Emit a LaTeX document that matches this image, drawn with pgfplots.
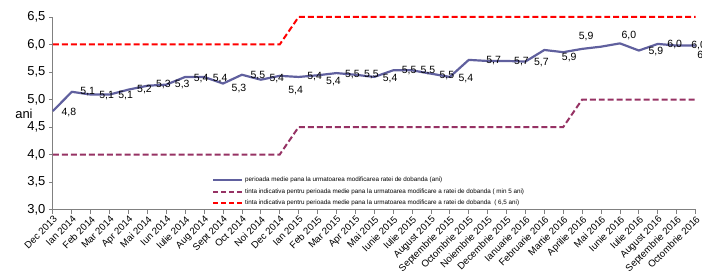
\documentclass[border=0pt]{standalone}
\usepackage{fontspec}
\setmainfont{Liberation Sans}
\usepackage{pgfplots}
\usepackage{pgfplotstable}
\pgfplotsset{compat=1.18}
\definecolor{lineblue}{RGB}{96,96,158}
\definecolor{tpurple}{RGB}{150,50,100}
\definecolor{tred}{RGB}{255,0,0}

\pgfplotstableread{
x y lab dx dy
0 4.79 {4,8} 16 -1
1 5.14 {5,1} 16 0
2 5.09 {5,1} 16 -1
3 5.09 {5,1} 16 -1
4 5.18 {5,2} 16 0
5 5.25 {5,3} 16 1
6 5.27 {5,3} 16 0
7 5.41 {5,4} 16 -2
8 5.41 {5,4} 16 -2
9 5.29 {5,3} 16 -5
10 5.45 {5,5} 16 -1
11 5.36 {5,4} 16 1
12 5.43 {5,4} 16 -15
13 5.41 {5,4} 16 0
14 5.44 {5,4} 16 -6
15 5.48 {5,5} 16 -1
16 5.45 {5,5} 16 0
17 5.41 {5,4} 16 -2
18 5.53 {5,5} 16 0
19 5.53 {5,5} 16 0
20 5.47 {5,5} 16 -2
21 5.41 {5,4} 16 -2
22 5.72 {} 0 0
23 5.70 {5,7} 6 0
24 5.70 {5,7} 15 -1
25 5.69 {5,7} 16 -1
26 5.90 {} 0 0
27 5.86 {5,9} 6 -5
28 5.92 {5,9} 4 12
29 5.96 {} 0 0
30 6.02 {6,0} 9 8
31 5.89 {5,9} 17 -1
32 6.01 {6,0} 17 -1
33 5.98 {6,0} 22 0
34 5.98 {6,0} 9 -10
}\mydata

\pgfplotstableread{
x y
0 4.0
12 4.0
13 4.5
27 4.5
28 5.0
34 5.0
}\purpletarget

\pgfplotstableread{
x y
0 6.0
12 6.0
13 6.5
34 6.5
}\redtarget

\begin{document}
\begin{tikzpicture}
\begin{axis}[
  scale only axis, width=644pt, height=193pt,
  xmin=0, xmax=34, ymin=3, ymax=6.5,
  axis x line*=bottom, axis y line*=left,
  axis line style={draw=gray, line width=0.8pt, -},
  xtick={0,...,34},
  xticklabels={Dec 2013, Ian 2014, Feb 2014, Mar 2014, Apr 2014, Mai 2014, Iun 2014, Iulie 2014, Aug 2014, Sept 2014, Oct 2014, Noi 2014, Dec 2014, Ian 2015, Feb 2015, Mar 2015, Apr 2015, Mai 2015, Iunie 2015, Iulie 2015, August 2015, Septembrie 2015, Octombrie 2015, Noiembrie 2015, Decembrie 2015, Ianuarie 2016, Februarie 2016, Martie 2016, Aprilie 2016, Mai 2016, Iunie 2016, Iulie 2016, August 2016, Septembrie 2016, Octombrie 2016},
  xticklabel style={rotate=45, anchor=north east, font=\fontsize{9.7}{10}\selectfont, inner sep=1pt},
  ytick={3,3.5,4,4.5,5,5.5,6,6.5},
  yticklabel style={font=\fontsize{13}{14}\selectfont, /pgf/number format/fixed, /pgf/number format/fixed zerofill, /pgf/number format/precision=1, /pgf/number format/use comma},
  /pgf/number format/assume math mode=true,
  tick align=outside, major tick length=4pt, tick style={gray, line width=0.8pt},
  ylabel={ani},
  ylabel style={rotate=-90, at={(axis description cs:-0.045,0.497)}, anchor=center, font=\fontsize{13}{14}\selectfont},
  legend style={at={(axis description cs:0.248,0.18)}, anchor=north west, draw=none, fill=none, font=\fontsize{6.3}{7}\selectfont, row sep=1.5pt, inner sep=0pt, cells={anchor=west}},
  legend image code/.code={\draw[#1] (0pt,0pt) -- (29pt,0pt);},
  clip=false,
]
\addplot[lineblue, line width=2.2pt, line join=round, mark=none, forget plot,
  nodes near coords, point meta=explicit symbolic,
  visualization depends on={\thisrow{dx} \as \dx},
  visualization depends on={\thisrow{dy} \as \dy},
  every node near coord/.append style={anchor=center, xshift=\dx, yshift=\dy, text=black, overlay, font=\fontsize{10.5}{12}\selectfont, inner sep=0pt}]
  table[x=x, y=y, meta=lab] {\mydata};
\addplot[tpurple, line width=2pt, dash pattern=on 6pt off 3pt, mark=none, forget plot] table[x=x, y=y] {\purpletarget};
\addplot[tred, line width=2pt, dash pattern=on 6pt off 3pt, mark=none, forget plot] table[x=x, y=y] {\redtarget};
\addlegendimage{lineblue, line width=1.8pt}
\addlegendentry{perioada medie pana la urmatoarea modificarea ratei de dobanda (ani)}
\addlegendimage{tpurple, line width=1.8pt, dash pattern=on 5pt off 3pt}
\addlegendentry{tinta indicativa pentru perioada medie pana la urmatoarea modificare a ratei de dobanda ( min 5 ani)}
\addlegendimage{tred, line width=1.8pt, dash pattern=on 5pt off 3pt}
\addlegendentry{tinta indicativa pentru perioada medie pana la urmatoarea modificare a ratei de dobanda\ \ ( 6,5 ani)}
\end{axis}
\path (current axis.south west) ++(-53pt,-70pt);
\path (current axis.north east) ++(5pt,17pt);
\end{tikzpicture}
\end{document}
